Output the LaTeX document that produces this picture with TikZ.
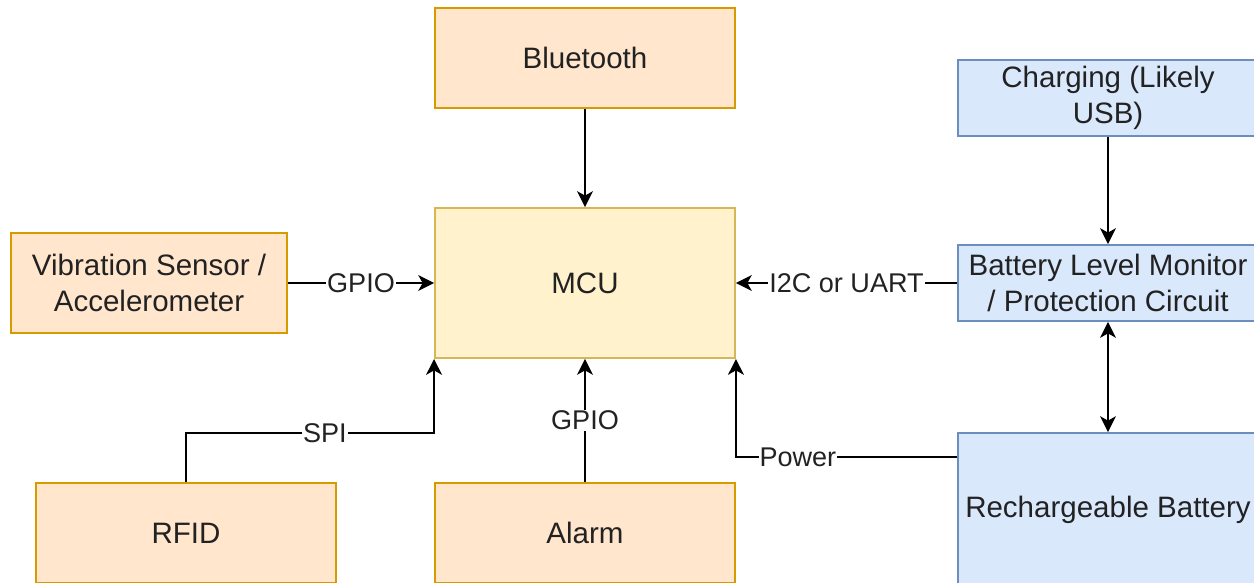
\documentclass[tikz,border=0pt]{standalone}
\usepackage{fontspec}
\setmainfont{Liberation Sans}
\usepackage{xcolor}
\usetikzlibrary{calc,arrows.meta,positioning}
\definecolor{devOrange}{HTML}{FFE6CC}
\definecolor{devOrangeDark}{HTML}{D79B00}
\definecolor{mcuYellow}{HTML}{FFF2CC}
\definecolor{mcuYellowDark}{HTML}{D6B656}
\definecolor{pwrBlue}{HTML}{DAE8FC}
\definecolor{pwrBlueDark}{HTML}{6C8EBF}
\definecolor{txtgray}{RGB}{34,34,34}
\tikzset{
  blk/.style={draw, line width=1.1pt, text=txtgray, align=center, inner sep=1pt,
    font=\fontsize{16.8}{20.5}\selectfont},
  blkDev/.style={blk, fill=devOrange, draw=devOrangeDark, minimum width=6cm, minimum height=2cm},
  blkMcu/.style={blk, fill=mcuYellow, draw=mcuYellowDark, minimum width=6cm, minimum height=3cm},
  blkPwr/.style={blk, fill=pwrBlue, draw=pwrBlueDark, minimum width=6cm, minimum height=1.52cm},
  wire/.style={line width=1.2pt, -{Stealth[length=9pt,width=9pt,inset=2.5pt]}},
  wireLbl/.style={fill=white, inner sep=0.5pt, text=txtgray, font=\fontsize{15.4}{18}\selectfont}
}
\begin{document}
\begin{tikzpicture}[x=0.02cm,y=0.02cm]
\useasboundingbox (0,0) rectangle (1254,582);
\node[blkDev] (bt) at (585,524) {Bluetooth};
\node[blkMcu] (mcu) at (585,299) {MCU};
\node[blkDev, minimum width=5.52cm] (vib) at (149,299) {Vibration Sensor /\\Accelerometer};
\node[blkDev] (rfid) at (186,49) {RFID};
\node[blkDev] (alarm) at (585,49) {Alarm};
\node[blkPwr] (chg) at (1108,484) {Charging (Likely\\USB)};
\node[blkPwr] (mon) at (1108,299) {Battery Level Monitor\\/ Protection Circuit};
\node[blkPwr, minimum height=3.08cm] (bat) at (1108,72) {Rechargeable Battery};
\coordinate (spiBend) at (186,149);
\coordinate (pwrOut) at ($(bat.north west)+(0,-25)$);
\draw[wire] (bt) -- (mcu);
\draw[wire] (vib) -- node[wireLbl] {GPIO} (mcu);
\draw[wire] (mon) -- node[wireLbl] {I2C or UART} (mcu);
\draw[wire] (chg) -- (mon);
\draw[wire, {Stealth[length=9pt,width=9pt,inset=2.5pt]}-{Stealth[length=9pt,width=9pt,inset=2.5pt]}] (mon) -- (bat);
\draw[wire] (rfid.north) -- (spiBend) -| node[wireLbl, pos=0.28] {SPI} (mcu.south west);
\draw[wire] (alarm) -- node[wireLbl] {GPIO} (mcu);
\draw[wire] (pwrOut) -| node[wireLbl, pos=0.36] {Power} (mcu.south east);
\end{tikzpicture}
\end{document}
